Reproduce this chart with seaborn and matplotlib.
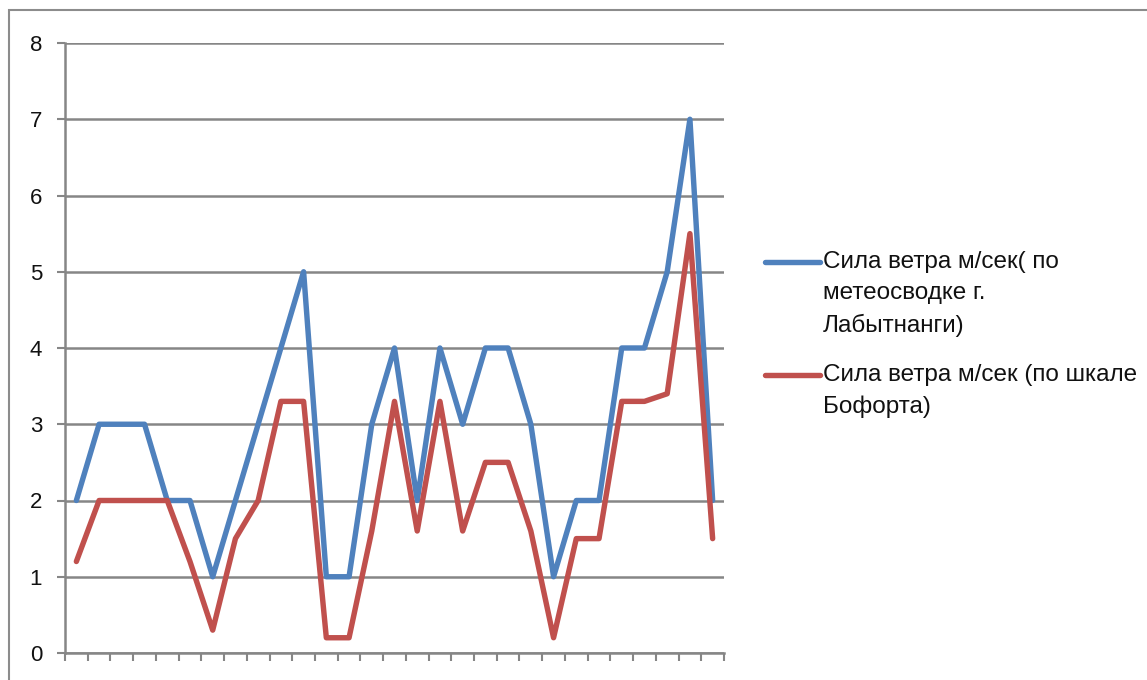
import matplotlib
matplotlib.use("Agg")
import matplotlib.pyplot as plt
import seaborn as sns
import pandas as pd
import numpy as np
from matplotlib.patches import Rectangle
from matplotlib.lines import Line2D

days = list(range(1, 30))
meteo = [2, 3, 3, 3, 2, 2, 1, 2, 3, 4, 5, 1, 1, 3, 4, 2, 4, 3, 4, 4, 3, 1, 2, 2, 4, 4, 5, 7, 2]
beaufort = [1.2, 2, 2, 2, 2, 1.2, 0.3, 1.5, 2, 3.3, 3.3, 0.2, 0.2, 1.6, 3.3, 1.6, 3.3, 1.6,
            2.5, 2.5, 1.6, 0.2, 1.5, 1.5, 3.3, 3.3, 3.4, 5.5, 1.5]
label_meteo = "Сила ветра м/сек( по\nметеосводке г.\nЛабытнанги)"
label_beaufort = "Сила ветра м/сек (по шкале\nБофорта)"
y_ticks = [0, 1, 2, 3, 4, 5, 6, 7, 8]

sns.set_theme(style="white")
plt.rcParams['font.family'] = ['Liberation Sans', 'DejaVu Sans']

df = pd.DataFrame({
    "pos": list(range(len(days))) * 2,
    "value": meteo + beaufort,
    "series": [label_meteo] * len(days) + [label_beaufort] * len(days),
})

W, H = 1147, 680
fig = plt.figure(figsize=(W / 100, H / 100), dpi=100)
ax = fig.add_axes([65/W, 27/H, (724-65)/W, (653-43)/H])

grid_c = "#868686"
blue, red = "#4F81BD", "#C0504D"
palette = {label_meteo: blue, label_beaufort: red}
sns.lineplot(data=df, x="pos", y="value", hue="series", palette=palette,
             linewidth=3.9, ax=ax, legend=False, zorder=3)

ax.set_xlim(-0.5, len(days) - 0.5)
ax.set_ylim(0, 8)
ax.set_yticks(y_ticks)
ax.set_yticklabels([str(t) for t in y_ticks], fontsize=16, color="#111111")
ax.set_xticks(np.arange(-0.5, len(days), 1.0))
ax.set_xticklabels([])
ax.set_xlabel("")
ax.set_ylabel("")
ax.yaxis.grid(True, color=grid_c, linewidth=1.8)
ax.set_axisbelow(True)
for s in ["top", "right"]:
    ax.spines[s].set_visible(False)
for s in ["left", "bottom"]:
    ax.spines[s].set_color(grid_c)
    ax.spines[s].set_linewidth(1.8)
ax.tick_params(axis="both", which="both", length=5.5, width=1.5, color=grid_c,
               direction="out", left=True, bottom=True)
ax.tick_params(axis="y", pad=11)

# legend (handle aligned with the first text line, as in the reference)
legend_items = [(label_meteo, 262), (label_beaufort, 375)]
for label, ypix in legend_items:
    yf = 1 - ypix / H
    fig.add_artist(Line2D([765/W, 820/W], [yf, yf], color=palette[label],
                          lw=3.9, solid_capstyle="round", transform=fig.transFigure))
    fig.text(823/W, 1 - (ypix - 11) / H, label, fontsize=17.5, color="#111111",
             ha="left", va="top", linespacing=1.53)

fig.patches.append(Rectangle((9/W, -0.1), 1.2, 1.1 - 10/H,
                             transform=fig.transFigure, fill=False,
                             edgecolor="#8c8c8c", linewidth=1.5))

fig.savefig("out.png", dpi=100)
